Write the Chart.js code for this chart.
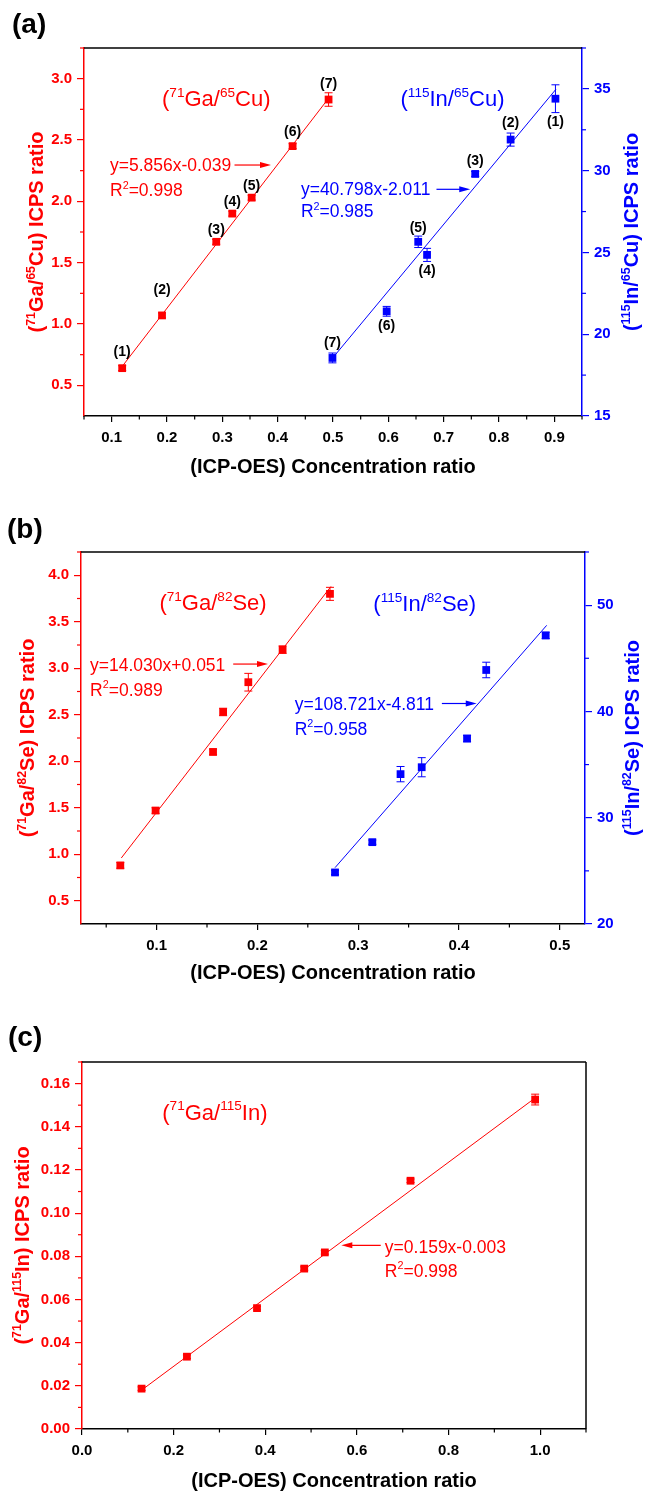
<!DOCTYPE html>
<html>
<head>
<meta charset="utf-8">
<script src="https://cdn.jsdelivr.net/npm/chart.js@4.4.1/dist/chart.umd.min.js"></script>
<style>
  html, body { margin: 0; padding: 0; background: #fff; }
  #wrap { position: relative; width: 646px; height: 1492px; }
  canvas { position: absolute; left: 0; }
</style>
</head>
<body>
<div id="wrap">
  <canvas id="chartA" width="646" height="490" style="top:0"></canvas>
  <canvas id="chartB" width="646" height="495" style="top:490px"></canvas>
  <canvas id="chartC" width="646" height="507" style="top:985px"></canvas>
</div>
<script>
// ---- values ----

// (a) Ga/Cu (left axis) and In/Cu (right axis)
const aTicksX = [0.1, 0.2, 0.3, 0.4, 0.5, 0.6, 0.7, 0.8, 0.9];
const aMinorX = [0.05, 0.15, 0.25, 0.35, 0.45, 0.55, 0.65, 0.75, 0.85, 0.95];
const aTicksY = [0.5, 1.0, 1.5, 2.0, 2.5, 3.0];
const aMinorY = [0.75, 1.25, 1.75, 2.25, 2.75, 3.25];
const aTicksY2 = [15, 20, 25, 30, 35];
const aMinorY2 = [17.5, 22.5, 27.5, 32.5, 37.5];

const aGaX = [0.119, 0.191, 0.289, 0.318, 0.353, 0.427, 0.492];
const aGaY = [0.64, 1.07, 1.67, 1.90, 2.03, 2.45, 2.83];
const aGaErr = [0.02, 0.02, 0.02, 0.02, 0.02, 0.02, 0.055];
const aGaLabels = ['(1)', '(2)', '(3)', '(4)', '(5)', '(6)', '(7)'];
const aGaFitX = [0.12, 0.492];
const aGaFitY = [0.66, 2.84];

const aInX = [0.902, 0.821, 0.757, 0.670, 0.654, 0.597, 0.499];
const aInY = [34.4, 31.9, 29.8, 24.85, 25.65, 21.4, 18.55];
const aInErr = [0.85, 0.4, 0.15, 0.4, 0.35, 0.3, 0.3];
const aInLabels = ['(1)', '(2)', '(3)', '(4)', '(5)', '(6)', '(7)'];
const aInFitX = [0.497, 0.903];
const aInFitY = [18.45, 34.98];

// (b) Ga/Se (left axis) and In/Se (right axis)
const bTicksX = [0.1, 0.2, 0.3, 0.4, 0.5];
const bMinorX = [0.05, 0.15, 0.25, 0.35, 0.45];
const bTicksY = [0.5, 1.0, 1.5, 2.0, 2.5, 3.0, 3.5, 4.0];
const bMinorY = [0.75, 1.25, 1.75, 2.25, 2.75, 3.25, 3.75, 4.25];
const bTicksY2 = [20, 30, 40, 50];
const bMinorY2 = [25, 35, 45, 55];

const bGaX = [0.064, 0.099, 0.156, 0.166, 0.191, 0.225, 0.272];
const bGaY = [0.88, 1.47, 2.10, 2.53, 2.85, 3.20, 3.80];
const bGaErr = [0.03, 0.03, 0.03, 0.04, 0.095, 0.04, 0.07];
const bGaFitX = [0.065, 0.273];
const bGaFitY = [0.96, 3.88];

const bInX = [0.277, 0.314, 0.342, 0.363, 0.408, 0.427, 0.486];
const bInY = [24.85, 27.7, 34.1, 34.75, 37.45, 43.9, 47.15];
const bInErr = [0.2, 0.2, 0.72, 0.9, 0.3, 0.73, 0.3];
const bInFitX = [0.277, 0.487];
const bInFitY = [25.3, 48.1];

// (c) Ga/In
const cTicksX = [0.0, 0.2, 0.4, 0.6, 0.8, 1.0];
const cMinorX = [0.1, 0.3, 0.5, 0.7, 0.9, 1.1];
const cTicksY = [0.00, 0.02, 0.04, 0.06, 0.08, 0.10, 0.12, 0.14, 0.16];
const cMinorY = [0.01, 0.03, 0.05, 0.07, 0.09, 0.11, 0.13, 0.15, 0.17];

const cGaX = [0.130, 0.229, 0.382, 0.485, 0.530, 0.717, 0.989];
const cGaY = [0.0187, 0.0335, 0.056, 0.0743, 0.0818, 0.115, 0.1526];
const cGaErr = [0.0008, 0.0008, 0.0008, 0.0008, 0.0008, 0.0008, 0.0025];
const cGaFitX = [0.13, 0.99];
const cGaFitY = [0.018, 0.1535];

// ---- styling ----
const FONT = '"Liberation Sans", Arial, Helvetica, sans-serif';
const RED = '#ff0000';
const BLUE = '#0000ff';
const BLACK = '#000000';
const W = 646;

// "^{..}" marks a superscript run
function parseRich(str) {
    const out = [];
    str.split(/(\^\{[^}]*\})/).forEach(s => {
        if (!s) return;
        if (s.startsWith('^{')) out.push({ t: s.slice(2, -1), sup: true });
        else out.push({ t: s, sup: false });
    });
    return out;
}

function drawRich(ctx, str, x, y, o) {
    const size = o.size;
    const wt = o.bold ? 'bold ' : '';
    const f1 = wt + size + 'px ' + FONT;
    const f2 = wt + (size * 0.62).toFixed(1) + 'px ' + FONT;
    const parts = parseRich(str);
    ctx.save();
    ctx.fillStyle = o.color;
    ctx.textBaseline = 'alphabetic';
    ctx.textAlign = 'left';
    let total = 0;
    parts.forEach(p => {
        ctx.font = p.sup ? f2 : f1;
        p.w = ctx.measureText(p.t).width;
        total += p.w;
    });
    ctx.translate(x, y);
    if (o.rotate) ctx.rotate(-Math.PI / 2);
    let cx = o.align === 'center' ? -total / 2 : 0;
    const base = size * 0.36;
    parts.forEach(p => {
        ctx.font = p.sup ? f2 : f1;
        ctx.fillText(p.t, cx, p.sup ? base - size * 0.42 : base);
        cx += p.w;
    });
    ctx.restore();
}

function drawArrow(ctx, x1, y, x2, color) {
    const dir = Math.sign(x2 - x1);
    ctx.save();
    ctx.strokeStyle = color;
    ctx.fillStyle = color;
    ctx.lineWidth = 1.2;
    ctx.beginPath();
    ctx.moveTo(x1, y);
    ctx.lineTo(x2 - dir * 6, y);
    ctx.stroke();
    ctx.beginPath();
    ctx.moveTo(x2, y);
    ctx.lineTo(x2 - dir * 11, y - 3);
    ctx.lineTo(x2 - dir * 11, y + 3);
    ctx.closePath();
    ctx.fill();
    ctx.restore();
}

function line(ctx, x1, y1, x2, y2, color, width) {
    ctx.save();
    ctx.strokeStyle = color;
    ctx.lineWidth = width;
    ctx.beginPath();
    ctx.moveTo(x1, y1);
    ctx.lineTo(x2, y2);
    ctx.stroke();
    ctx.restore();
}

// everything that Chart.js cannot draw by itself
function overlay(p) {
    return {
        id: 'overlay',
        afterDatasetsDraw(chart) {
            const ctx = chart.ctx;
            const sx = chart.scales.x;
            p.series.forEach(s => {
                const sy = chart.scales[s.axis];
                s.x.forEach((xv, i) => {
                    const px = sx.getPixelForValue(xv);
                    const top = sy.getPixelForValue(s.y[i] + s.err[i]);
                    const bot = sy.getPixelForValue(s.y[i] - s.err[i]);
                    line(ctx, px, top, px, bot, s.color, 1);
                    line(ctx, px - 4, top, px + 4, top, s.color, 1);
                    line(ctx, px - 4, bot, px + 4, bot, s.color, 1);
                });
            });
        },
        afterDraw(chart) {
            const ctx = chart.ctx;
            const a = chart.chartArea;
            const sx = chart.scales.x;
            const sy = chart.scales.y;

            // frame
            line(ctx, a.left, a.top, a.right, a.top, BLACK, 1.5);
            if (!p.y2) line(ctx, a.right, a.top, a.right, a.bottom, BLACK, 1.5);

            // minor ticks
            p.x.minor.forEach(v => {
                const px = sx.getPixelForValue(v);
                line(ctx, px, a.bottom, px, a.bottom + 3.5, BLACK, 1.2);
            });
            p.y.minor.forEach(v => {
                const py = sy.getPixelForValue(v);
                line(ctx, a.left, py, a.left - 4, py, p.y.color, 1.2);
            });
            if (p.y2) {
                const sy2 = chart.scales.y2;
                p.y2.minor.forEach(v => {
                    const py = sy2.getPixelForValue(v);
                    line(ctx, a.right, py, a.right + 4, py, p.y2.color, 1.2);
                });
            }

            // point labels
            ctx.save();
            ctx.font = 'bold 14px ' + FONT;
            ctx.fillStyle = BLACK;
            ctx.textAlign = 'center';
            ctx.textBaseline = 'middle';
            p.series.forEach(s => {
                if (!s.labels) return;
                const ys = chart.scales[s.axis];
                s.labels.forEach((t, i) => {
                    ctx.fillText(t, sx.getPixelForValue(s.x[i]), ys.getPixelForValue(s.y[i]) + s.labelDy[i]);
                });
            });
            ctx.restore();

            // notes and arrows (placed in left-axis data units)
            p.notes.forEach(n => {
                drawRich(ctx, n.text, sx.getPixelForValue(n.x), sy.getPixelForValue(n.y),
                    { size: n.size, color: n.color, align: n.align });
            });
            p.arrows.forEach(r => {
                drawArrow(ctx, sx.getPixelForValue(r.x1), sy.getPixelForValue(r.y), sx.getPixelForValue(r.x2), r.color);
            });

            // axis titles
            const midY = (a.top + a.bottom) / 2;
            drawRich(ctx, p.y.title, p.y.titleX, midY, { size: 20, bold: true, color: p.y.color, align: 'center', rotate: true });
            if (p.y2) {
                drawRich(ctx, p.y2.title, p.y2.titleX, midY, { size: 20, bold: true, color: p.y2.color, align: 'center', rotate: true });
            }
            drawRich(ctx, '(ICP-OES) Concentration ratio', (a.left + a.right) / 2, a.bottom + p.xTitleDy,
                { size: 20, bold: true, color: BLACK, align: 'center' });

            // panel letter
            drawRich(ctx, p.letter.text, p.letter.x, p.letter.y, { size: 28, bold: true, color: BLACK, align: 'left' });
        }
    };
}

function yAxis(cfg, position, width) {
    return {
        type: 'linear',
        position: position,
        min: cfg.min,
        max: cfg.max,
        afterBuildTicks: s => { s.ticks = cfg.ticks.map(v => ({ value: v })); },
        afterFit: s => { s.width = width; },
        ticks: {
            color: cfg.color,
            font: { family: FONT, size: 15, weight: 'bold' },
            padding: 5,
            callback: v => v.toFixed(cfg.dec)
        },
        grid: { drawOnChartArea: false, color: cfg.color, tickLength: 7, lineWidth: 1.2 },
        border: { color: cfg.color, width: 1.5 }
    };
}

function buildChart(p) {
    const datasets = [];
    p.series.forEach(s => {
        datasets.push({
            data: s.fitX.map((v, i) => ({ x: v, y: s.fitY[i] })),
            yAxisID: s.axis,
            showLine: true,
            borderColor: s.color,
            borderWidth: 1,
            pointRadius: 0
        });
        datasets.push({
            data: s.x.map((v, i) => ({ x: v, y: s.y[i] })),
            yAxisID: s.axis,
            pointStyle: 'rect',
            pointRadius: 5.5,
            backgroundColor: s.color,
            borderColor: s.color,
            borderWidth: 0
        });
    });

    const scales = {
        x: {
            type: 'linear',
            min: p.x.min,
            max: p.x.max,
            afterBuildTicks: s => { s.ticks = p.x.ticks.map(v => ({ value: v })); },
            afterFit: s => { s.height = p.height - p.area.b; },
            ticks: {
                color: BLACK,
                font: { family: FONT, size: 15, weight: 'bold' },
                padding: 7,
                maxRotation: 0,
                callback: v => v.toFixed(p.x.dec)
            },
            grid: { drawOnChartArea: false, color: BLACK, tickLength: 6, lineWidth: 1.2 },
            border: { color: BLACK, width: 1.5 }
        },
        y: yAxis(p.y, 'left', p.area.l)
    };
    if (p.y2) scales.y2 = yAxis(p.y2, 'right', W - p.area.r);

    new Chart(document.getElementById(p.id), {
        type: 'scatter',
        data: { datasets: datasets },
        options: {
            responsive: false,
            animation: false,
            devicePixelRatio: 1,
            layout: { padding: { top: p.area.t, left: 0, right: p.y2 ? 0 : W - p.area.r, bottom: 0 } },
            plugins: { legend: { display: false }, tooltip: { enabled: false } },
            scales: scales
        },
        plugins: [overlay(p)]
    });
}

const panelA = {
    id: 'chartA', height: 490,
    area: { l: 84, r: 582, t: 48, b: 416 },
    letter: { text: '(a)', x: 12, y: 23 },
    xTitleDy: 50,
    x: { min: 0.05, max: 0.95, ticks: aTicksX, minor: aMinorX, dec: 1 },
    y: { min: 0.25, max: 3.25, ticks: aTicksY, minor: aMinorY, dec: 1, color: RED,
         title: '(^{71}Ga/^{65}Cu) ICPS ratio', titleX: 36 },
    y2: { min: 15, max: 37.5, ticks: aTicksY2, minor: aMinorY2, dec: 0, color: BLUE,
          title: '(^{115}In/^{65}Cu) ICPS ratio', titleX: 631 },
    series: [
        { axis: 'y', color: RED, x: aGaX, y: aGaY, err: aGaErr, fitX: aGaFitX, fitY: aGaFitY,
          labels: aGaLabels, labelDy: [-16, -25, -12, -11, -12, -14, -15] },
        { axis: 'y2', color: BLUE, x: aInX, y: aInY, err: aInErr, fitX: aInFitX, fitY: aInFitY,
          labels: aInLabels, labelDy: [23, -16, -13, 16, -14, 15, -15] }
    ],
    notes: [
        { text: '(^{71}Ga/^{65}Cu)', x: 0.289, y: 2.84, size: 22, color: RED, align: 'center' },
        { text: '(^{115}In/^{65}Cu)', x: 0.716, y: 2.84, size: 22, color: BLUE, align: 'center' },
        { text: 'y=5.856x-0.039', x: 0.097, y: 2.296, size: 17.5, color: RED, align: 'left' },
        { text: 'R^{2}=0.998', x: 0.097, y: 2.093, size: 17.5, color: RED, align: 'left' },
        { text: 'y=40.798x-2.011', x: 0.442, y: 2.10, size: 17.5, color: BLUE, align: 'left' },
        { text: 'R^{2}=0.985', x: 0.442, y: 1.92, size: 17.5, color: BLUE, align: 'left' }
    ],
    arrows: [
        { x1: 0.322, x2: 0.388, y: 2.296, color: RED },
        { x1: 0.687, x2: 0.748, y: 2.098, color: BLUE }
    ]
};

const panelB = {
    id: 'chartB', height: 495,
    area: { l: 81, r: 585, t: 62, b: 434 },
    letter: { text: '(b)', x: 7, y: 38 },
    xTitleDy: 48,
    x: { min: 0.025, max: 0.525, ticks: bTicksX, minor: bMinorX, dec: 1 },
    y: { min: 0.25, max: 4.25, ticks: bTicksY, minor: bMinorY, dec: 1, color: RED,
         title: '(^{71}Ga/^{82}Se) ICPS ratio', titleX: 27 },
    y2: { min: 20, max: 55, ticks: bTicksY2, minor: bMinorY2, dec: 0, color: BLUE,
          title: '(^{115}In/^{82}Se) ICPS ratio', titleX: 632 },
    series: [
        { axis: 'y', color: RED, x: bGaX, y: bGaY, err: bGaErr, fitX: bGaFitX, fitY: bGaFitY },
        { axis: 'y2', color: BLUE, x: bInX, y: bInY, err: bInErr, fitX: bInFitX, fitY: bInFitY }
    ],
    notes: [
        { text: '(^{71}Ga/^{82}Se)', x: 0.156, y: 3.714, size: 22, color: RED, align: 'center' },
        { text: '(^{115}In/^{82}Se)', x: 0.366, y: 3.70, size: 22, color: BLUE, align: 'center' },
        { text: 'y=14.030x+0.051', x: 0.034, y: 3.039, size: 17.5, color: RED, align: 'left' },
        { text: 'R^{2}=0.989', x: 0.034, y: 2.771, size: 17.5, color: RED, align: 'left' },
        { text: 'y=108.721x-4.811', x: 0.237, y: 2.621, size: 17.5, color: BLUE, align: 'left' },
        { text: 'R^{2}=0.958', x: 0.237, y: 2.353, size: 17.5, color: BLUE, align: 'left' }
    ],
    arrows: [
        { x1: 0.176, x2: 0.2105, y: 3.045, color: RED },
        { x1: 0.383, x2: 0.4176, y: 2.621, color: BLUE }
    ]
};

const panelC = {
    id: 'chartC', height: 507,
    area: { l: 82, r: 586, t: 77, b: 444 },
    letter: { text: '(c)', x: 8, y: 51 },
    xTitleDy: 51,
    x: { min: 0, max: 1.1, ticks: cTicksX, minor: cMinorX, dec: 1 },
    y: { min: 0, max: 0.17, ticks: cTicksY, minor: cMinorY, dec: 2, color: RED,
         title: '(^{71}Ga/^{115}In) ICPS ratio', titleX: 22 },
    series: [
        { axis: 'y', color: RED, x: cGaX, y: cGaY, err: cGaErr, fitX: cGaFitX, fitY: cGaFitY }
    ],
    notes: [
        { text: '(^{71}Ga/^{115}In)', x: 0.29, y: 0.147, size: 22, color: RED, align: 'center' },
        { text: 'y=0.159x-0.003', x: 0.661, y: 0.0846, size: 17.5, color: RED, align: 'left' },
        { text: 'R^{2}=0.998', x: 0.661, y: 0.0735, size: 17.5, color: RED, align: 'left' }
    ],
    arrows: [
        { x1: 0.652, x2: 0.566, y: 0.0851, color: RED }
    ]
};

document.addEventListener('DOMContentLoaded', function () {
    buildChart(panelA);
    buildChart(panelB);
    buildChart(panelC);
});
</script>
</body>
</html>
